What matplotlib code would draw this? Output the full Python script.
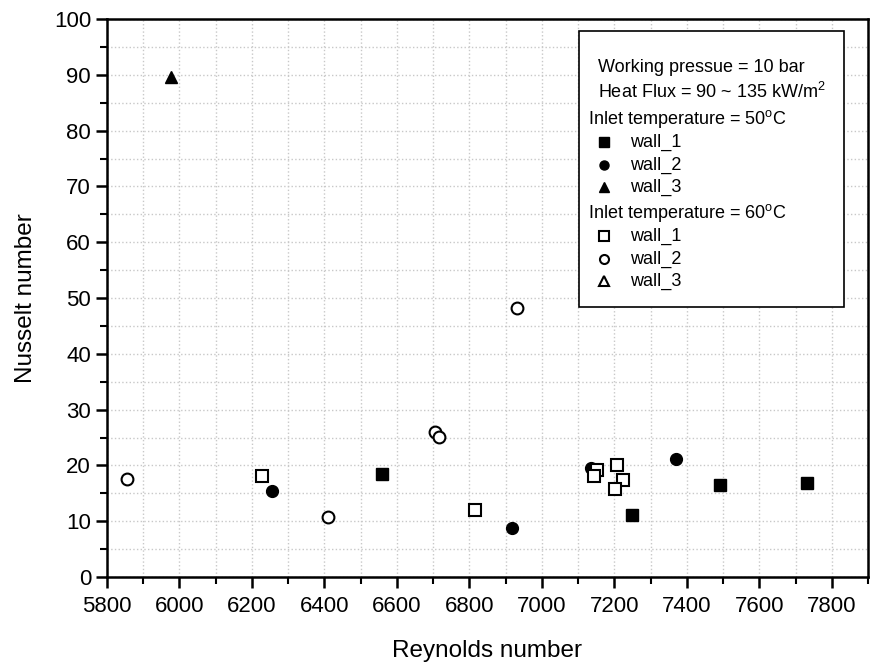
import matplotlib
matplotlib.use("Agg")
import matplotlib.pyplot as plt
from matplotlib.patches import Rectangle
from matplotlib.ticker import MultipleLocator

plt.rcParams['font.family'] = ['Liberation Sans', 'DejaVu Sans']
plt.rcParams['mathtext.default'] = 'regular'

# inlet temperature = 50 C
re_50_w1 = [6560, 7249, 7492, 7733]
nu_50_w1 = [18.4, 11.1, 16.4, 16.8]
re_50_w2 = [6255, 6917, 7135, 7369]
nu_50_w2 = [15.5, 8.7, 19.6, 21.2]
re_50_w3 = [5977]
nu_50_w3 = [89.6]

# inlet temperature = 60 C
re_60_w1 = [6228, 6816, 7153, 7145, 7208, 7225, 7203]
nu_60_w1 = [18.1, 12.0, 19.1, 18.1, 20.1, 17.3, 15.7]
re_60_w2 = [5854, 6410, 6706, 6716, 6931]
nu_60_w2 = [17.5, 10.7, 25.9, 25.1, 48.2]
re_60_w3 = []
nu_60_w3 = []

W, H = 873, 669
fig = plt.figure(figsize=(W / 100, H / 100), dpi=100)
ax = fig.add_axes([107 / W, 1 - 577 / H, 761 / W, 558 / H])

ms = 8
ax.plot(re_50_w1, nu_50_w1, 's', color='black', ms=ms, zorder=3)
ax.plot(re_50_w2, nu_50_w2, 'o', color='black', ms=ms + 0.5, zorder=3)
ax.plot(re_50_w3, nu_50_w3, '^', color='black', ms=ms + 1, zorder=3)
ax.plot(re_60_w1, nu_60_w1, 's', mfc='white', mec='black', mew=1.5, ms=ms, zorder=3)
ax.plot(re_60_w2, nu_60_w2, 'o', mfc='white', mec='black', mew=1.5, ms=ms + 0.5, zorder=3)
ax.plot(re_60_w3, nu_60_w3, '^', mfc='white', mec='black', mew=1.5, ms=ms + 1, zorder=3)

ax.set_xlim(5800, 7900)
ax.set_ylim(0, 100)
ax.xaxis.set_major_locator(MultipleLocator(200))
ax.xaxis.set_minor_locator(MultipleLocator(100))
ax.yaxis.set_major_locator(MultipleLocator(10))
ax.yaxis.set_minor_locator(MultipleLocator(5))
ax.set_xticks([t for t in range(5800, 7801, 200)])

ax.grid(True, which='both', color='#c8c8c8', linestyle=':', linewidth=1.0)
ax.set_axisbelow(True)
for s in ax.spines.values():
    s.set_linewidth(1.8)
ax.tick_params(which='major', direction='out', length=8, width=1.8, labelsize=16)
ax.tick_params(which='minor', direction='out', length=5, width=1.5)
ax.tick_params(axis='x', which='major', pad=6)
ax.tick_params(top=False, right=False, which='both')

ax.set_xlabel('Reynolds number', fontsize=17.5, labelpad=16)
ax.set_ylabel('Nusselt number', fontsize=17.5, labelpad=12)


# hand-made legend box, positions given in figure pixels
def fx(px):
    return (px - 107) / 761


def fy(py):
    return (577 - py) / 558


tr = ax.transAxes
ax.add_patch(Rectangle((fx(579), fy(307)), fx(844) - fx(579), fy(31) - fy(307),
                       transform=tr, facecolor='white', edgecolor='black', lw=1.2, zorder=5))
fs = 13
ax.text(fx(598), fy(67), 'Working pressue = 10 bar', transform=tr, fontsize=fs, va='center', zorder=6)
ax.text(fx(598), fy(92), 'Heat Flux = 90 ~ 135 kW/m$^2$', transform=tr, fontsize=fs, va='center', zorder=6)

groups = [
    ('Inlet temperature = 50$^o$C', 119, 'black', [142, 165, 187]),
    ('Inlet temperature = 60$^o$C', 213, 'white', [236, 259, 281]),
]
for title, ty, face, rows in groups:
    ax.text(fx(588), fy(ty), title, transform=tr, fontsize=fs, va='center', zorder=6)
    for mk, name, ry in zip(['s', 'o', '^'], ['wall_1', 'wall_2', 'wall_3'], rows):
        ax.plot([fx(604)], [fy(ry)], mk, transform=tr, mfc=face, mec='black',
                mew=1.5 if face == 'white' else 1, ms=6.5, clip_on=False, zorder=6)
        ax.text(fx(630), fy(ry), name, transform=tr, fontsize=fs, va='center', zorder=6)

fig.savefig('out.png', dpi=100)
